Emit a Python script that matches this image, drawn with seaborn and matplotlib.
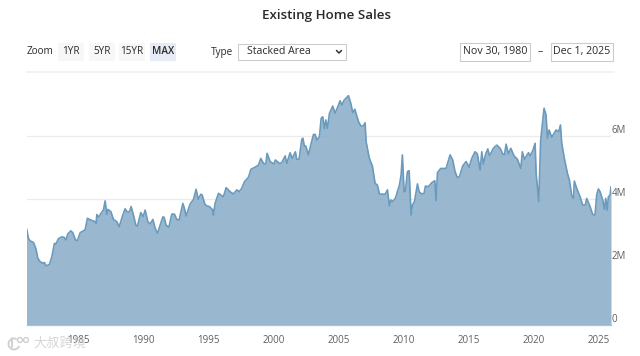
import matplotlib
matplotlib.use("Agg")
import matplotlib.pyplot as plt
from matplotlib.patches import Rectangle, Circle, Arc
import seaborn as sns
import pandas as pd

years = [1981.00,1981.15,1981.28,1981.54,1981.72,1981.87,1982.05,1982.26,1982.38,1982.49,1982.77,1982.95,1983.15,1983.26,1983.46,1983.72,1983.90,1984.03,1984.18,1984.41,1984.56,1984.77,1984.92,1985.13,1985.51,1985.69,1985.95,1986.28,1986.36,1986.41,1986.54,1986.79,1986.92,1987.05,1987.18,1987.26,1987.49,1987.69,1987.95,1988.13,1988.41,1988.59,1988.72,1988.92,1989.05,1989.23,1989.41,1989.54,1989.79,1989.97,1990.13,1990.33,1990.51,1990.72,1990.90,1991.08,1991.28,1991.49,1991.59,1991.74,1991.95,1992.18,1992.38,1992.56,1992.74,1993.03,1993.15,1993.28,1993.59,1993.85,1994.05,1994.21,1994.41,1994.51,1994.72,1994.87,1995.08,1995.33,1995.38,1995.51,1995.77,1996.15,1996.36,1996.67,1996.92,1997.18,1997.36,1997.56,1997.77,1998.08,1998.26,1998.59,1998.85,1999.03,1999.23,1999.41,1999.51,1999.74,2000.05,2000.15,2000.46,2000.64,2000.90,2001.03,2001.28,2001.44,2001.69,2001.79,2001.97,2002.18,2002.26,2002.38,2002.49,2002.69,2002.87,2003.08,2003.21,2003.33,2003.54,
2003.67,2003.79,2003.92,2004.03,2004.15,2004.31,2004.56,2004.74,2005.00,2005.13,2005.26,2005.44,2005.77,2005.95,2006.10,2006.26,2006.54,2006.72,2006.92,2007.05,2007.13,2007.36,2007.62,2007.82,2008.00,2008.15,2008.59,2008.77,2008.92,2009.03,2009.18,2009.38,2009.69,2009.82,2009.92,2010.05,2010.15,2010.31,2010.44,2010.59,2010.69,2010.85,2011.08,2011.21,2011.41,2011.59,2011.69,2011.92,2012.18,2012.41,2012.51,2012.62,2012.87,2013.28,2013.59,2013.79,2013.97,2014.15,2014.31,2014.56,2014.82,2015.05,2015.26,2015.51,2015.69,2015.90,2016.03,2016.15,2016.33,2016.49,2016.62,2016.92,2017.18,2017.44,2017.64,2017.77,2017.90,2018.08,2018.26,2018.51,2018.77,2019.03,2019.15,2019.31,2019.62,2019.74,2019.95,2020.13,2020.21,2020.41,2020.56,2020.82,2020.97,2021.08,2021.21,2021.41,2021.74,2021.95,2022.08,2022.18,2022.38,2022.62,2022.77,2022.95,2023.08,2023.15,2023.33,2023.59,2023.79,2024.00,2024.10,2024.36,2024.56,2024.74,2024.87,2025.00,2025.13,2025.33,2025.46,2025.56,2025.67,2025.77,2025.90,2025.97]
sales_m = [3.07,2.75,2.67,2.62,2.43,2.12,2.01,1.96,1.98,1.88,1.92,2.17,2.59,2.57,2.74,2.80,2.78,2.70,2.89,2.99,2.93,2.70,2.68,2.93,3.02,3.39,3.33,3.28,3.23,3.51,3.42,3.58,3.65,3.94,3.51,3.67,3.60,3.35,3.28,3.12,3.49,3.69,3.60,3.59,3.76,3.49,3.17,3.14,3.57,3.44,3.65,3.28,3.21,3.35,3.07,2.91,3.17,3.43,3.42,3.17,3.10,3.52,3.52,3.35,3.33,3.86,3.70,3.46,3.84,3.99,4.31,3.99,4.15,4.13,3.84,3.78,3.76,3.65,3.49,3.86,4.18,4.07,4.36,4.23,4.16,4.29,4.23,4.34,4.55,4.69,4.94,5.01,5.08,5.29,5.13,5.11,5.45,5.19,5.11,5.24,5.13,5.15,5.37,5.13,5.47,5.29,5.50,5.26,5.26,5.89,5.93,5.68,5.68,5.40,5.71,6.05,6.05,5.87,5.98,
6.56,6.61,6.24,6.51,6.24,6.72,6.95,6.72,6.98,7.12,6.98,7.14,7.28,7.04,6.74,6.85,6.46,6.32,6.32,6.42,5.82,5.32,5.03,4.50,4.44,4.16,4.15,4.29,3.78,3.97,3.92,4.02,4.44,4.76,5.40,4.23,4.25,4.87,4.90,3.49,3.81,3.92,4.48,4.23,4.16,4.18,4.41,4.39,4.52,4.58,3.95,4.84,4.97,4.97,5.40,5.24,4.87,4.68,4.71,5.05,5.19,5.01,5.29,5.50,5.43,4.92,5.50,5.11,5.43,5.59,5.37,5.61,5.71,5.61,5.43,5.40,5.74,5.43,5.61,5.37,5.26,4.97,5.50,5.26,5.47,5.37,5.53,5.77,4.81,3.92,5.87,6.88,6.67,5.93,6.19,5.96,6.19,6.14,6.35,5.77,5.29,4.81,4.60,4.10,4.02,4.57,4.34,4.07,3.81,3.81,4.02,3.76,3.51,3.49,4.13,4.32,4.23,3.97,3.67,4.02,3.65,4.07,4.13,4.39]
x_tick_years = [1985,1990,1995,2000,2005,2010,2015,2020,2025]
y_ticks = [0,2,4,6]
y_tick_labels = ["0","2M","4M","6M"]
title_text = "Existing Home Sales"
zoom_buttons = ["1YR","5YR","15YR","MAX"]

sns.set_theme(style="white")
plt.rcParams['font.family'] = ['Open Sans','DejaVu Sans']
W, H = 640, 356
fig = plt.figure(figsize=(W/100, H/100), dpi=100, facecolor="white")
ax = fig.add_axes([26.5/W, 1-325/H, (611-26.5)/W, (325-80)/H])
df = pd.DataFrame({"year": years, "sales": sales_m})
LINE = "#6a9abc"
ax.fill_between(df["year"], df["sales"], 0, color="#8aaec9", alpha=0.87, lw=0, zorder=3)
sns.lineplot(data=df, x="year", y="sales", color=LINE, lw=1.2, ax=ax, zorder=4, estimator=None, sort=False)
ax.set_xlim(1981.0, 2025.97)
ax.set_ylim(0, 245/31.5)
ax.set_xlabel(""); ax.set_ylabel("")
ax.set_xticks(x_tick_years)
ax.set_yticks(y_ticks[1:] + [0])
ax.set_yticklabels(y_tick_labels[1:] + ["0"])
ax.yaxis.tick_right()
ax.tick_params(axis="x", length=0, pad=7, labelsize=7, labelcolor="#5f5f5f")
ax.tick_params(axis="y", length=0, pad=0.5, labelsize=7, labelcolor="#5f5f5f")
for l in ax.get_yticklabels():
    l.set_va("bottom")
ax.grid(axis="y", color="#ececec", lw=1, zorder=0)
ax.set_axisbelow(True)
for s in ["top","left","right"]:
    ax.spines[s].set_visible(False)
ax.spines["bottom"].set_color("#c6d3e0")
ax.spines["bottom"].set_linewidth(1)

# toolbar overlay in pixel coordinates
ov = fig.add_axes([0,0,1,1], facecolor="none", zorder=10)
ov.set_xlim(0,W); ov.set_ylim(H,0); ov.axis("off")
TXT = "#2b2b2b"
ov.text(326, 15, title_text, ha="center", va="center", fontsize=9.6, fontweight="semibold", color="#2b2b2b")
ov.text(27, 52, "Zoom", ha="left", va="center", fontsize=7.2, color=TXT)
for label, x0, x1 in zip(zoom_buttons, [58,88.5,119,150], [84,115,145,176]):
    active = label == "MAX"
    ov.add_patch(Rectangle((x0,43), x1-x0, 18, fc="#e6ebf5" if active else "#f7f7f7", ec="none"))
    ov.text((x0+x1)/2, 52, label, ha="center", va="center", fontsize=7.2, color=TXT, fontweight="semibold" if active else "normal")
ov.text(211, 52, "Type", ha="left", va="center", fontsize=7.2, color=TXT)
ov.add_patch(Rectangle((238,43.5), 108, 16.5, fc="white", ec="#cccccc", lw=0.8))
ov.text(247, 51.5, "Stacked Area", ha="left", va="center", fontsize=7.6, color=TXT)
ov.plot([336.5,339,341.5],[50.5,53,50.5], color="#333333", lw=1.1)
ov.add_patch(Rectangle((460,42.5), 70, 18, fc="white", ec="#cccccc", lw=0.8))
ov.text(495, 51.5, "Nov 30, 1980", ha="center", va="center", fontsize=7.7, color=TXT)
ov.text(540, 51.5, "–", ha="center", va="center", fontsize=7.7, color=TXT)
ov.add_patch(Rectangle((550.5,42.5), 62.5, 18, fc="white", ec="#cccccc", lw=0.8))
ov.text(581.7, 51.5, "Dec 1, 2025", ha="center", va="center", fontsize=7.7, color=TXT)
ov.plot([27,614],[71.5,71.5], color="#f0f0f0", lw=1.2)
# watermark: logo rings and text
WM = "#cfcfcf"
ov.add_patch(Arc((14,344), 11, 11, theta1=20, theta2=300, color=WM, lw=1.3))
ov.plot([12,12],[338,347], color=WM, lw=1.3)
ov.add_patch(Circle((20,340), 2.4, fc="none", ec=WM, lw=1))
ov.add_patch(Circle((26,340), 2.4, fc="none", ec=WM, lw=1))
ov.text(33, 343, "大叔跨境", ha="left", va="center", fontsize=9.5, color=WM, alpha=0.85,
        family=['Noto Sans CJK SC','DejaVu Sans'])
fig.savefig("out.png", dpi=100, facecolor="white")
